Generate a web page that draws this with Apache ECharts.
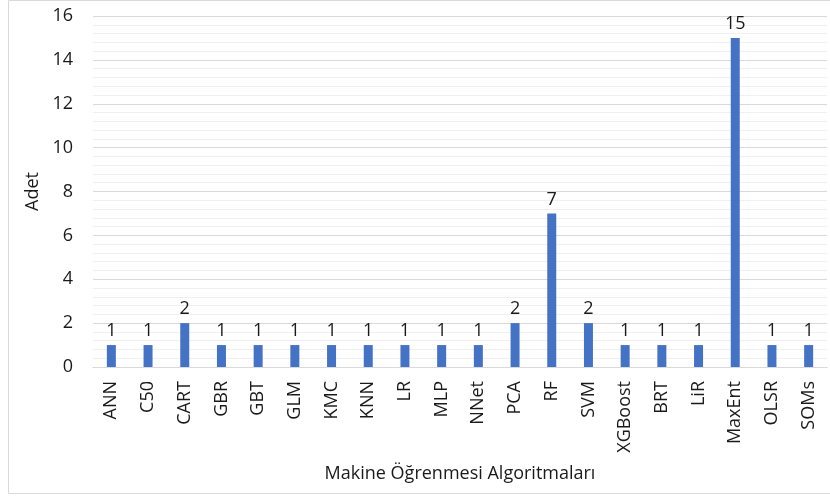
<!DOCTYPE html>
<html>
<head>
<meta charset="utf-8">
<script src="https://cdn.jsdelivr.net/npm/echarts@6/dist/echarts.min.js"></script>
<style>
  html, body { margin: 0; padding: 0; background: #fff; }
  #chart { width: 830px; height: 497px; }
</style>
</head>
<body>
<div id="chart"></div>
<script>
// Number of studies using each machine learning algorithm
const categories = ['ANN', 'C50', 'CART', 'GBR', 'GBT', 'GLM', 'KMC', 'KNN', 'LR', 'MLP', 'NNet',
  'PCA', 'RF', 'SVM', 'XGBoost', 'BRT', 'LiR', 'MaxEnt', 'OLSR', 'SOMs'];
const counts = [1, 1, 2, 1, 1, 1, 1, 1, 1, 1, 1, 2, 7, 2, 1, 1, 1, 15, 1, 1];
const yTicks = [0, 2, 4, 6, 8, 10, 12, 14, 16];

const fontFamily = '"Open Sans", "Noto Sans", sans-serif';
const textColor = '#1a1a1a';
const fontSize = 18;

const chart = echarts.init(document.getElementById('chart'), null, { renderer: 'canvas' });
chart.setOption({
  animation: false,
  textStyle: { fontFamily: fontFamily },
  graphic: [{
    type: 'rect',
    shape: { x: 8.5, y: 0.5, width: 830, height: 493 },
    style: { fill: 'none', stroke: '#d9d9d9', lineWidth: 1 },
    silent: true
  }],
  grid: { left: 93, right: 3, top: 16, bottom: 130, containLabel: false },
  xAxis: {
    type: 'category',
    data: categories,
    name: 'Makine Öğrenmesi Algoritmaları',
    nameLocation: 'middle',
    nameGap: 98,
    nameTextStyle: { fontSize: fontSize, color: textColor, fontFamily: fontFamily },
    axisLine: { show: true, lineStyle: { color: '#d9d9d9', width: 1 } },
    axisTick: { show: false },
    axisLabel: { rotate: 90, fontSize: fontSize, color: textColor, margin: 14, fontFamily: fontFamily }
  },
  yAxis: {
    type: 'value',
    min: yTicks[0],
    max: yTicks[yTicks.length - 1],
    interval: 2,
    name: 'Adet',
    nameLocation: 'middle',
    nameGap: 48,
    nameRotate: 90,
    nameTextStyle: { fontSize: fontSize, color: textColor, fontFamily: fontFamily },
    axisLine: { show: false },
    axisTick: { show: false },
    axisLabel: { fontSize: fontSize, color: textColor, margin: 20, fontFamily: fontFamily },
    splitLine: { show: true, lineStyle: { color: '#d9d9d9', width: 1 } },
    minorTick: { show: false, splitNumber: 5 },
    minorSplitLine: { show: true, lineStyle: { color: '#f0f0f0', width: 1 } }
  },
  series: [{
    type: 'bar',
    data: counts,
    barWidth: 9,
    itemStyle: { color: '#4472C4' },
    label: {
      show: true,
      position: 'top',
      distance: 5,
      fontSize: fontSize,
      color: textColor,
      fontFamily: fontFamily
    }
  }]
});
</script>
</body>
</html>
